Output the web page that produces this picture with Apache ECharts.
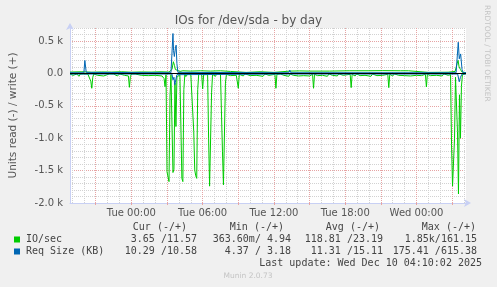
<!DOCTYPE html>
<html><head><meta charset="utf-8">
<script src="https://cdn.jsdelivr.net/npm/echarts@6/dist/echarts.min.js"></script>
<style>html,body{margin:0;padding:0;background:#f0f0f0;}#c{width:497px;height:287px;}</style>
</head><body><div id="c"></div>
<script>
// ---- data (x in minutes relative to Tue 00:00) ----
const chartTitle = 'IOs for /dev/sda - by day';
const yAxisName = 'Units read (-) / write (+)';
const sideText = 'RRDTOOL / TOBI OETIKER';
const xMin = -310, xMax = 1690;
const xLabelMinutes = [0, 360, 720, 1080, 1440];
const xLabelTexts = ['Tue 00:00', 'Tue 06:00', 'Tue 12:00', 'Tue 18:00', 'Wed 00:00'];
const xMajorMinutes = [-180, 0, 180, 360, 540, 720, 900, 1080, 1260, 1440, 1620];
const xMinorMinutes = [-300, -240, -120, -60, 60, 120, 240, 300, 420, 480, 600, 660, 780, 840, 960, 1020, 1140, 1200, 1320, 1380, 1500, 1560, 1680];
const yMin = -2000, yMax = 700;

const ioRead = [[-310,-10],[-295,-30],[-290,-8],[-275,-10],[-265,-45],[-258,-10],[-250,-35],[-242,-8],[-220,-10],[-210,-30],[-205,-120],[-200,-230],[-195,-60],[-190,-10],[-170,-30],[-165,-8],[-140,-40],[-133,-10],[-110,-8],[-100,-35],[-90,-10],[-70,-40],[-60,-8],[-35,-30],[-25,-10],[-15,-40],[-10,-215],[-5,-50],[0,-10],[10,-40],[20,-10],[50,-30],[60,-8],[85,-35],[95,-10],[120,-30],[130,-8],[155,-40],[160,-15],[165,-80],[170,-205],[175,-20],[180,-1520],[185,-1550],[190,-1670],[195,-350],[200,-20],[205,-40],[210,-1530],[215,-1480],[220,-150],[225,-820],[230,-60],[245,-20],[250,-800],[255,-1620],[260,-1670],[265,-250],[270,-15],[275,-50],[285,-10],[295,-40],[300,-10],[310,-20],[315,-900],[320,-1490],[325,-1580],[330,-1620],[335,-250],[340,-15],[355,-20],[360,-240],[365,-20],[385,-20],[390,-1000],[395,-1740],[400,-1745],[405,-300],[410,-15],[425,-45],[430,-10],[450,-10],[455,-30],[460,-1200],[465,-1720],[470,-1710],[475,-150],[480,-15],[500,-35],[510,-8],[530,-30],[535,-15],[540,-230],[545,-15],[565,-40],[575,-8],[600,-35],[610,-10],[630,-30],[640,-8],[665,-45],[675,-10],[695,-30],[705,-8],[725,-15],[730,-230],[735,-15],[745,-40],[752,-8],[770,-30],[778,-8],[795,-45],[802,-10],[818,-30],[826,-8],[845,-40],[852,-10],[870,-35],[878,-8],[900,-40],[908,-10],[915,-15],[920,-230],[925,-15],[940,-35],[948,-8],[965,-30],[972,-10],[990,-45],[998,-8],[1015,-30],[1022,-10],[1040,-40],[1048,-8],[1070,-30],[1078,-10],[1105,-15],[1110,-220],[1115,-15],[1130,-40],[1138,-8],[1155,-35],[1162,-10],[1180,-30],[1188,-8],[1210,-45],[1218,-10],[1240,-35],[1248,-8],[1270,-30],[1278,-10],[1295,-15],[1300,-220],[1305,-15],[1320,-40],[1328,-8],[1350,-30],[1358,-10],[1380,-35],[1388,-8],[1410,-40],[1418,-10],[1440,-30],[1448,-8],[1465,-35],[1472,-10],[1485,-15],[1490,-210],[1495,-15],[1510,-35],[1518,-8],[1540,-30],[1548,-10],[1570,-40],[1578,-8],[1600,-30],[1608,-10],[1612,-20],[1617,-1100],[1622,-1740],[1627,-1720],[1632,-1000],[1637,-60],[1642,-40],[1647,-900],[1652,-1860],[1657,-330],[1662,-1000],[1667,-200],[1672,-20],[1680,-8],[1690,-4]];

const ioWrite = [[-310,20],[-250,25],[-200,18],[-150,22],[-100,20],[-50,25],[0,18],[50,22],[100,20],[150,25],[190,20],[200,25],[205,60],[212,180],[218,120],[222,60],[230,35],[245,30],[260,40],[300,35],[350,40],[400,35],[450,40],[500,30],[510,15],[580,15],[590,25],[650,25],[660,15],[720,15],[730,35],[800,35],[850,38],[900,35],[1000,35],[1100,40],[1200,40],[1270,42],[1275,65],[1280,42],[1360,40],[1365,50],[1370,40],[1400,40],[1405,15],[1500,15],[1600,18],[1635,30],[1645,150],[1650,200],[1655,100],[1662,60],[1670,20],[1690,12]];

const reqRead = [[-310,-10],[205,-10],[210,-100],[215,-60],[219,-175],[224,-150],[230,-20],[240,-10],[795,-10],[800,-30],[805,-10],[1648,-10],[1656,-130],[1662,-60],[1670,-10],[1690,-10]];

const reqWrite = [[-310,10],[-240,10],[-237,20],[-235,200],[-231,195],[-228,15],[-220,10],[200,10],[205,20],[210,615],[213,350],[217,260],[222,380],[226,435],[230,150],[235,15],[240,10],[795,10],[800,50],[805,10],[1640,10],[1646,20],[1651,480],[1656,225],[1663,300],[1670,60],[1675,12],[1690,10]];

// legend table text
const legendHeaders = ['Cur (-/+)', 'Min (-/+)', 'Avg (-/+)', 'Max (-/+)'];
const legendNames = ['IO/sec', 'Req Size (KB)'];
const legendRows = [
  ['3.65 /11.57', '363.60m/ 4.94', '118.81 /23.19', '1.85k/161.15'],
  ['10.29 /10.58', '4.37 / 3.18', '11.31 /15.11', '175.41 /615.38']
];
const lastUpdate = 'Last update: Wed Dec 10 04:10:02 2025';
const footer = 'Munin 2.0.73';

// ---- styling ----
const GREEN = '#00cc00', BLUE = '#0066b3';
const MAJOR = '#e6a4a4', MINOR = '#d2d2d2', AXIS = '#c8d0f4';
const mono = 'DejaVu Sans Mono', sans = 'DejaVu Sans';

const chart = echarts.init(document.getElementById('c'), null, {renderer: 'canvas'});

const headerRight = [187, 284, 380, 476];
const valueRight = [197, 291, 383, 477];
const rowY = [239.5, 251.5];
const colors = [GREEN, BLUE];
const graphics = [];
legendHeaders.forEach((t, i) => graphics.push({type: 'text', x: headerRight[i], y: 227.5,
  style: {text: t, font: '10px ' + mono, fill: '#444', textAlign: 'right', textVerticalAlign: 'middle'}}));
legendNames.forEach((n, r) => {
  graphics.push({type: 'rect', shape: {x: 14, y: rowY[r] - 3, width: 6, height: 6}, style: {fill: colors[r]}});
  graphics.push({type: 'text', x: 26, y: rowY[r], style: {text: n, font: '10px ' + mono, fill: '#444', textAlign: 'left', textVerticalAlign: 'middle'}});
  legendRows[r].forEach((v, i) => graphics.push({type: 'text', x: valueRight[i], y: rowY[r],
    style: {text: v, font: '10px ' + mono, fill: '#444', textAlign: 'right', textVerticalAlign: 'middle'}}));
});
graphics.push({type: 'text', x: 482, y: 263.5, style: {text: lastUpdate, font: '10px ' + mono, fill: '#444', textAlign: 'right', textVerticalAlign: 'middle'}});
graphics.push({type: 'text', x: 248, y: 276, style: {text: footer, font: '7.5px ' + sans, fill: '#c4c4c4', textAlign: 'center', textVerticalAlign: 'middle'}});
graphics.push({type: 'text', x: 487, y: 5, rotation: -Math.PI / 2, style: {text: sideText, font: '7.5px ' + sans, fill: '#c4c4c4', textAlign: 'left', textVerticalAlign: 'middle'}});

function lineSeries(name, data, color, extra) {
  return Object.assign({
    name, type: 'line', data, showSymbol: false, symbol: 'none', smooth: false,
    lineStyle: {color, width: 1}, itemStyle: {color}, silent: true, animation: false,
    xAxisIndex: 0, yAxisIndex: 0
  }, extra || {});
}

chart.setOption({
  backgroundColor: '#f0f0f0',
  animation: false,
  title: {text: chartTitle, left: 'center', top: 10,
    textStyle: {fontFamily: sans, fontSize: 12, fontWeight: 'normal', color: '#555'}},
  grid: {left: 66, top: 28, width: 400, height: 175, show: true, backgroundColor: '#ffffff', borderWidth: 0, containLabel: false},
  xAxis: [
    {type: 'value', min: xMin, max: xMax, position: 'bottom',
      axisLine: {show: true, onZero: false, lineStyle: {color: AXIS, width: 1}, symbol: ['none', 'arrow'], symbolSize: [6, 7], symbolOffset: [0, 5]},
      axisTick: {show: true, customValues: xMajorMinutes, length: 2, lineStyle: {color: MAJOR}},
      axisLabel: {customValues: xLabelMinutes, margin: 5, fontFamily: sans, fontSize: 10, color: '#555',
        formatter: v => { const i = xLabelMinutes.indexOf(v); return i >= 0 ? xLabelTexts[i] : ''; }},
      splitLine: {show: true, lineStyle: {color: MAJOR, width: 1, type: [1, 1]}}},
    {type: 'value', min: xMin, max: xMax, position: 'bottom', gridIndex: 0,
      axisLine: {show: false, onZero: false}, axisLabel: {show: false},
      axisTick: {show: false, customValues: xMinorMinutes},
      splitLine: {show: true, lineStyle: {color: MINOR, width: 1, type: [1, 1]}}}
  ],
  yAxis: {type: 'value', min: yMin, max: yMax, interval: 100, position: 'left',
    name: yAxisName, nameLocation: 'middle', nameGap: 51,
    nameTextStyle: {fontFamily: sans, fontSize: 10.5, color: '#555'},
    axisLine: {show: true, onZero: false, lineStyle: {color: AXIS, width: 1}, symbol: ['none', 'arrow'], symbolSize: [6, 7], symbolOffset: [0, 5]},
    axisTick: {show: false},
    axisLabel: {margin: 7, fontFamily: sans, fontSize: 10, color: '#555',
      formatter: v => { if (Math.abs(v) < 1e-6) return '0.0'; if (Math.abs(v % 500) < 1e-6) return (v / 1000).toFixed(1) + ' k'; return ''; }},
    splitLine: {show: true, lineStyle: {color: [MAJOR, MINOR, MINOR, MINOR, MINOR], width: 1, type: [1, 1]}}},
  series: [
    lineSeries('IO/sec read', ioRead, GREEN),
    lineSeries('IO/sec write', ioWrite, GREEN),
    lineSeries('Req Size read', reqRead, BLUE),
    lineSeries('Req Size write', reqWrite, BLUE, {
      markLine: {silent: true, symbol: 'none', animation: false, label: {show: false},
        lineStyle: {color: '#000', width: 1, type: 'solid'}, data: [{yAxis: 0}]}})
  ],
  graphic: graphics
});
</script></body></html>
